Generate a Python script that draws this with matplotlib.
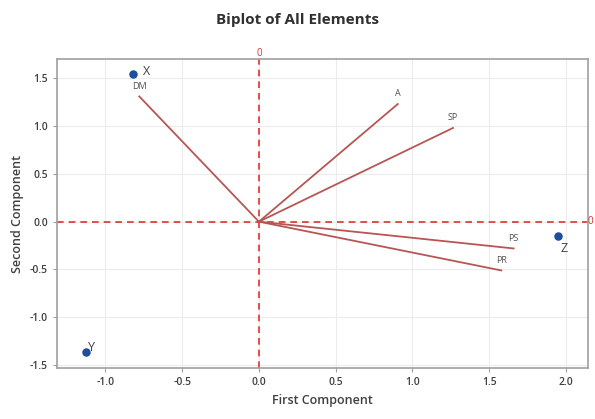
import numpy as np
from matplotlib import pyplot as plt

plt.rcParams['font.family'] = ['Open Sans', 'DejaVu Sans']

# observation scores
obs_names = ['X', 'Y', 'Z']
obs_x = [-0.82, -1.13, 1.95]
obs_y = [1.54, -1.36, -0.15]

# variable loadings (vector ends)
var_names = ['DM', 'A', 'SP', 'PS', 'PR']
var_x = [-0.78, 0.905, 1.265, 1.66, 1.58]
var_y = [1.31, 1.23, 0.98, -0.28, -0.51]

xticks = [-1.0, -0.5, 0.0, 0.5, 1.0, 1.5, 2.0]
yticks = [-1.5, -1.0, -0.5, 0.0, 0.5, 1.0, 1.5]

fig = plt.figure(figsize=(5.95, 4.19), dpi=100)
ax = fig.add_axes([0.0958, 0.1217, 0.892, 0.7373])

ax.set_xlim(-1.316, 2.143)
ax.set_ylim(-1.53, 1.70)
ax.set_xticks(xticks)
ax.set_yticks(yticks)
ax.set_xticklabels(['%.1f' % t for t in xticks], fontweight='semibold')
ax.set_yticklabels(['%.1f' % t for t in yticks], fontweight='semibold')
ax.grid(True, color='#ececec', linewidth=0.8)
ax.set_axisbelow(True)

for s in ax.spines.values():
    s.set_color('#a0a0a0')
    s.set_linewidth(1.2)
ax.tick_params(labelcolor='#404040', labelsize=7.5, length=3, width=0.8, color='#a0a0a0')

# reference lines
ax.axvline(0, color='#e03030', ls=(0, (4, 3)), lw=1.2)
ax.axhline(0, color='#e03030', ls=(0, (4, 3)), lw=1.2)
ax.text(0, 1.0, '0', transform=ax.get_xaxis_transform(), color='#e03030',
        ha='center', va='bottom', fontsize=7)
ax.text(1.0, 0, '0', transform=ax.get_yaxis_transform(), color='#e03030',
        ha='left', va='center', fontsize=7)

# loading vectors
for name, vx, vy in zip(var_names, var_x, var_y):
    ax.plot([0, vx], [0, vy], color='#b85555', lw=1.3)
    ax.annotate(name, (vx, vy), xytext=(0, 4), textcoords='offset points',
                ha='center', va='bottom', fontsize=6.5, color='#505050')

# scores
ax.scatter(obs_x, obs_y, s=26, color='#1f4e9a', marker='o', zorder=3)
offsets = {'X': (10, 2), 'Y': (4, 3), 'Z': (4, -9)}
for name, ox, oy in zip(obs_names, obs_x, obs_y):
    ax.annotate(name, (ox, oy), xytext=offsets[name], textcoords='offset points',
                ha='center', va='center', fontsize=9, color='#404040')

ax.set_xlabel('First Component', fontsize=9, fontweight='semibold', color='#404040')
ax.set_ylabel('Second Component', fontsize=9, fontweight='semibold', color='#404040')
fig.suptitle('Biplot of All Elements', x=0.5, y=0.97, fontsize=11,
             fontweight='bold', color='#303030')

fig.savefig('out.png', dpi=100)
